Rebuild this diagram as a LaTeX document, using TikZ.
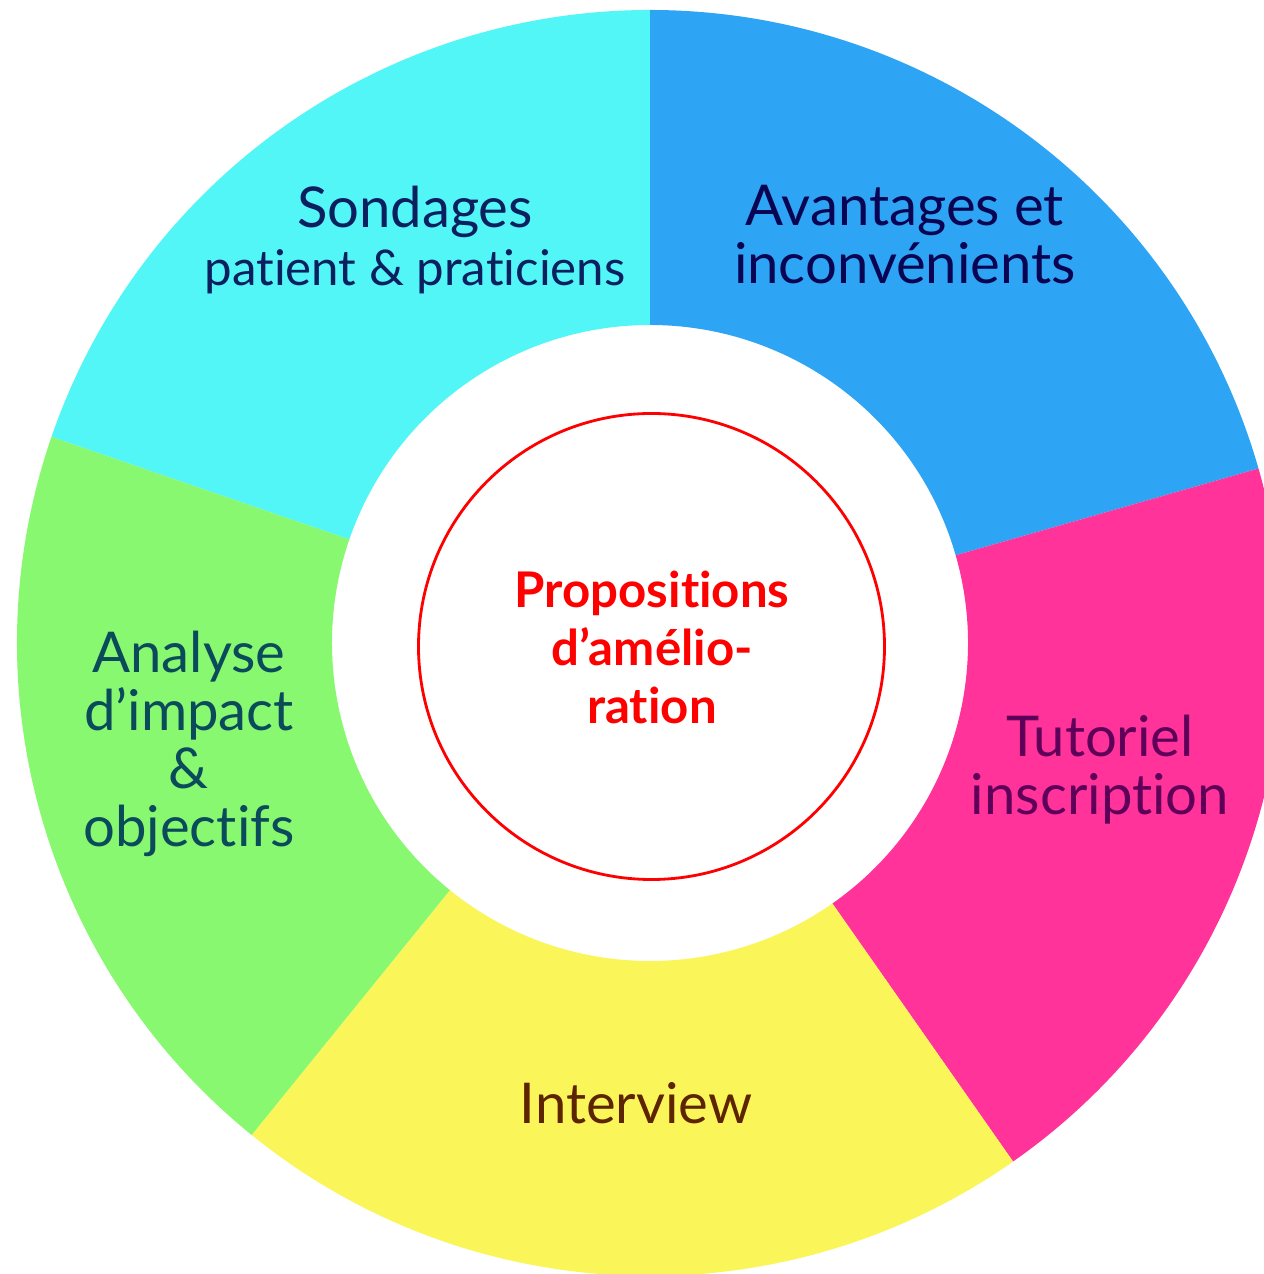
\documentclass[tikz,border=0pt]{standalone}
\usepackage{fontspec}
\setmainfont[Ligatures={NoCommon}]{Lato}
\usetikzlibrary{positioning}

\definecolor{segcyan}{HTML}{52F6F6}
\definecolor{segblue}{HTML}{2EA4F5}
\definecolor{segpink}{HTML}{FF3399}
\definecolor{segyellow}{HTML}{FAF65A}
\definecolor{seggreen}{HTML}{87F870}
\definecolor{sondagesink}{HTML}{0C1F5E}
\definecolor{avantagesink}{HTML}{0A0552}
\definecolor{tutorielink}{HTML}{5E0059}
\definecolor{interviewink}{HTML}{5C2400}
\definecolor{analyseink}{HTML}{0A4A5A}

\begin{document}
\begin{tikzpicture}
    \tikzstyle{wedge text}  = [align=center,font=\fontsize{16}{16.5}\selectfont]
    \tikzstyle{centre text} = [align=center,text=red,font=\fontsize{14}{16.5}\selectfont\bfseries]
    \tikzstyle{centre ring} = [circle,draw=red,line width=0.8pt,minimum size=4.66cm]

    \fill[white] (-6.50,-6.31) rectangle (6.13,6.43);
    \useasboundingbox (-6.50,-6.31) rectangle (6.13,6.43);

    % ring segments
    \foreach \a/\b/\c in {90/161/segcyan, 16/90/segblue, -55/16/segpink, -129/-55/segyellow, 161/231/seggreen}
        \fill[\c] (\a:6.33) arc[start angle=\a,end angle=\b,radius=6.33]
            -- (\b:3.18) arc[start angle=\b,end angle=\a,radius=3.18] -- cycle;

    \node[wedge text,text=sondagesink] (sondages) at (-2.35,4.03)
        {Sondages\\{\fontsize{14}{16.5}\selectfont patient \& praticiens}};
    \node[wedge text,text=avantagesink] (avantages) at (2.55,4.08) {Avantages et\\inconvénients};
    \node[wedge text,text=tutorielink] (tutoriel) at (4.50,-1.27) {Tutoriel\\inscription};
    \node[wedge text,text=interviewink] (interview) at (-0.14,-4.60) {Interview};
    \node[wedge text,text=analyseink] (analyse) at (-4.61,-1.01) {Analyse\\d’impact\\\&\\objectifs};

    \node[centre ring] (ring) at (0.015,-0.035) {};
    \node[centre text] (propositions) at (0.02,-0.04) {Propositions\\d’amélio-\\ration};
\end{tikzpicture}
\end{document}
